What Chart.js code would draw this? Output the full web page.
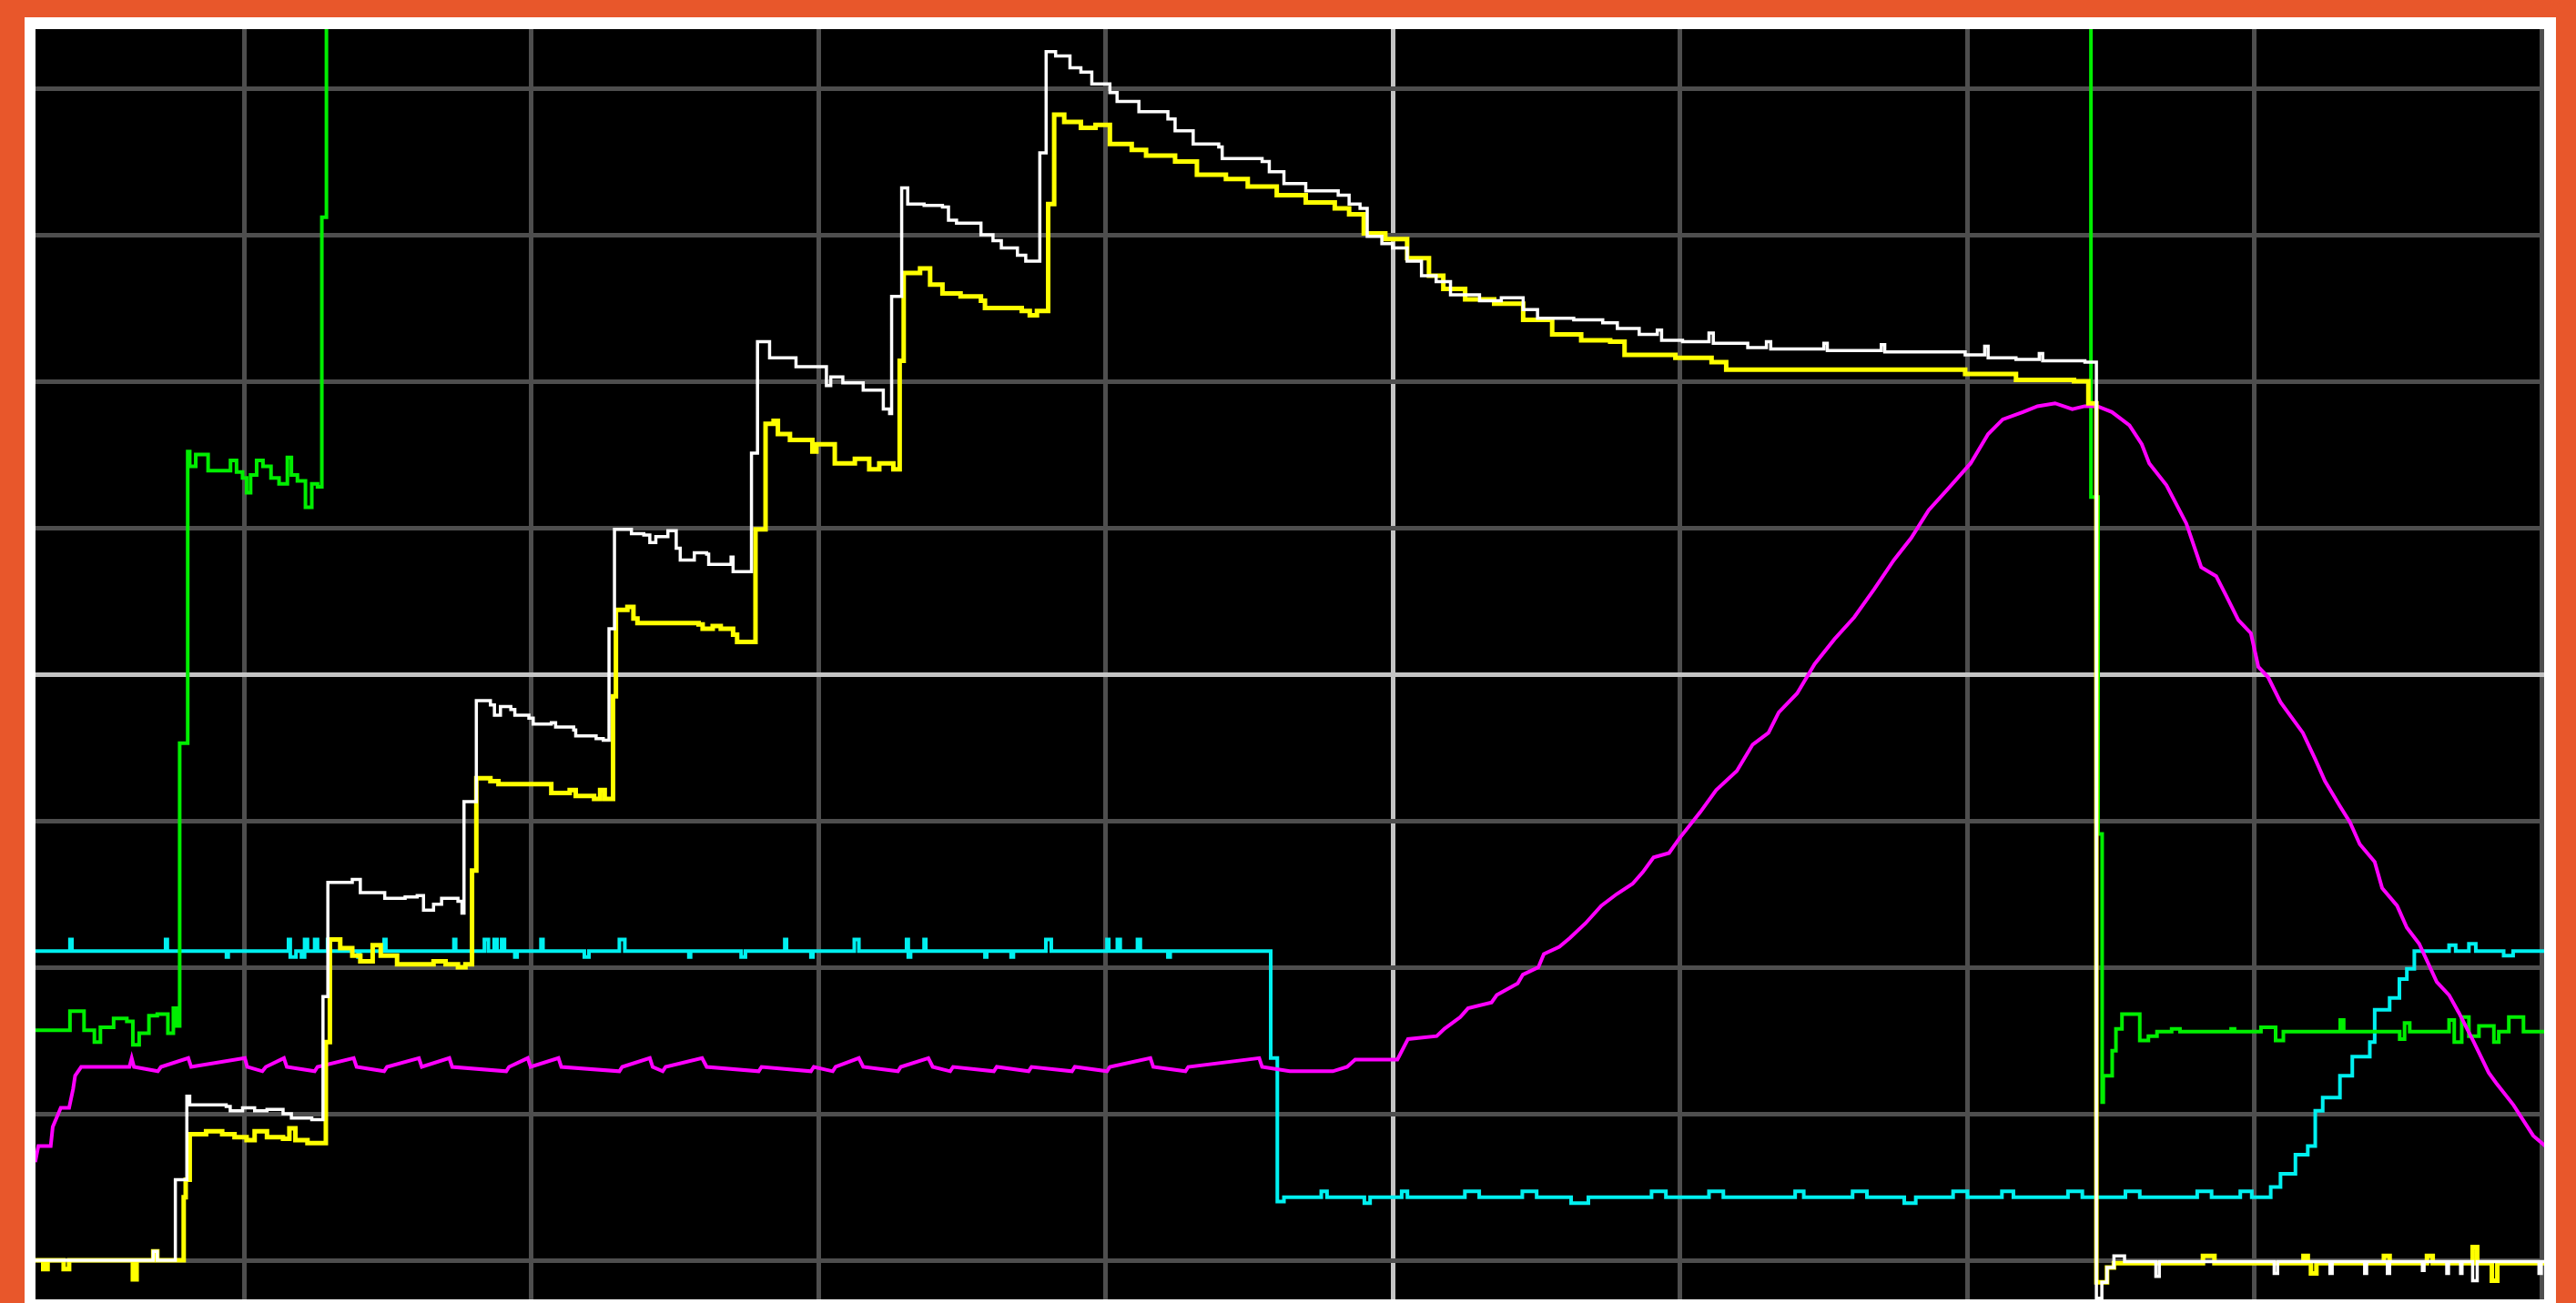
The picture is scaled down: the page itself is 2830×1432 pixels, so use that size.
<!DOCTYPE html>
<html>
<head>
<meta charset="utf-8">
<script src="https://cdn.jsdelivr.net/npm/chart.js@4.4.1/dist/chart.umd.min.js"></script>
<style>
  html, body { margin: 0; padding: 0; }
  body { width: 2830px; height: 1432px; overflow: hidden; background: #e8572b; position: relative; }
  .frame { position: absolute; left: 27px; top: 19px; width: 2781px; height: 1460px; background: #fff; }
  .screen { position: absolute; left: 39px; top: 32px; width: 2756px; height: 1396px; background: #000; }
</style>
</head>
<body>
<div class="frame"></div>
<div class="screen"><canvas id="scope"></canvas></div>
<script>
// scope screen in divisions, centre of the graticule = 0
const xRange = [-4.727, 4.008];
const yRange = [-4.267, 4.404];
const xDivisions = [-4, -3, -2, -1, 0, 1, 2, 3, 4];
const yDivisions = [-4, -3, -2, -1, 0, 1, 2, 3, 4];

// [x div, y div] -- each point is the level reached at that x (6 = off the top of the screen)
const whiteTrace = [
  [-4.727,-4.00],[-4.317,-3.94],[-4.303,-4.00],[-4.240,-3.45],[-4.200,-2.88],[-4.190,-2.94],[-4.063,-2.95],[-4.049,-2.98],[-4.006,-2.96],[-3.964,-2.98],[-3.921,-2.97],[-3.865,-3.00],[-3.836,-3.03],[-3.765,-3.04],
  [-3.726,-2.20],[-3.709,-1.42],[-3.624,-1.40],[-3.596,-1.49],[-3.511,-1.53],[-3.440,-1.52],[-3.398,-1.51],[-3.376,-1.61],[-3.341,-1.57],[-3.313,-1.53],[-3.256,-1.55],[-3.242,-1.63],
  [-3.235,-0.87],[-3.192,-0.18],[-3.143,-0.21],[-3.129,-0.28],[-3.108,-0.22],[-3.072,-0.24],[-3.058,-0.28],[-3.009,-0.30],[-2.994,-0.34],[-2.931,-0.33],[-2.916,-0.36],[-2.853,-0.38],[-2.846,-0.42],[-2.775,-0.44],[-2.750,-0.45],
  [-2.730,0.31],[-2.711,0.99],[-2.652,0.96],[-2.609,0.95],[-2.588,0.90],[-2.567,0.94],[-2.525,0.98],[-2.496,0.86],[-2.482,0.78],[-2.433,0.83],[-2.390,0.82],[-2.383,0.75],[-2.305,0.80],[-2.298,0.70],
  [-2.234,1.51],[-2.213,2.27],[-2.171,2.16],[-2.079,2.10],[-1.973,1.97],[-1.958,2.03],[-1.916,1.99],[-1.845,1.94],[-1.775,1.81],[-1.753,1.78],
  [-1.746,2.58],[-1.711,3.32],[-1.690,3.21],[-1.633,3.20],[-1.569,3.19],[-1.548,3.10],[-1.520,3.08],[-1.435,3.00],[-1.393,2.96],[-1.364,2.91],[-1.308,2.86],[-1.279,2.82],
  [-1.230,3.56],[-1.208,4.25],[-1.175,4.22],[-1.125,4.14],[-1.087,4.11],[-1.049,4.03],[-0.986,3.97],[-0.961,3.91],[-0.885,3.84],[-0.784,3.79],[-0.759,3.71],[-0.696,3.62],[-0.607,3.60],[-0.595,3.52],[-0.456,3.50],[-0.431,3.43],[-0.380,3.35],[-0.304,3.30],[-0.191,3.27],[-0.153,3.21],[-0.115,3.18],[-0.090,2.99],[-0.039,2.94],[-0.002,2.91],[0.049,2.82],[0.099,2.72],[0.150,2.68],[0.200,2.59],[0.301,2.55],[0.377,2.57],[0.453,2.49],[0.503,2.43],[0.629,2.42],[0.730,2.40],[0.781,2.36],[0.857,2.32],[0.920,2.35],[0.935,2.28],[1.008,2.27],[1.100,2.33],[1.115,2.26],[1.185,2.26],[1.235,2.23],[1.300,2.27],[1.315,2.22],[1.412,2.22],[1.500,2.26],[1.512,2.21],[1.563,2.21],[1.700,2.25],[1.712,2.20],[1.866,2.20],[1.992,2.18],[2.060,2.24],[2.072,2.16],[2.169,2.15],[2.250,2.19],[2.262,2.14],[2.371,2.14],[2.409,2.13],
  [2.449,-4.26],[2.468,-4.15],[2.486,-4.05],[2.510,-3.97],[2.547,-4.01],[2.656,-4.11],[2.668,-4.01],[3.068,-4.09],[3.080,-4.01],[3.262,-4.09],[3.270,-4.01],[3.383,-4.09],[3.390,-4.01],[3.462,-4.09],[3.470,-4.01],[3.584,-4.07],[3.590,-4.01],[3.669,-4.09],[3.675,-4.01],[3.717,-4.09],[3.722,-4.01],[3.759,-4.14],[3.775,-4.01],[3.990,-4.09],[3.998,-4.01],[4.020,-4.01]
];

const yellowTrace = [
  [-4.727,-4.00],[-4.700,-4.06],[-4.685,-4.00],[-4.629,-4.06],[-4.610,-4.00],[-4.388,-4.13],[-4.375,-4.00],[-4.317,-3.94],[-4.303,-4.00],
  [-4.211,-3.57],[-4.204,-3.45],[-4.190,-3.14],[-4.133,-3.12],[-4.077,-3.14],[-4.034,-3.16],[-3.992,-3.18],[-3.964,-3.12],[-3.921,-3.16],[-3.865,-3.17],[-3.843,-3.10],[-3.822,-3.18],[-3.780,-3.20],
  [-3.716,-2.51],[-3.702,-1.81],[-3.666,-1.87],[-3.624,-1.92],[-3.596,-1.96],[-3.553,-1.85],[-3.525,-1.92],[-3.468,-1.98],[-3.341,-1.96],[-3.299,-1.98],[-3.256,-2.00],[-3.230,-1.98],
  [-3.207,-1.34],[-3.192,-0.71],[-3.143,-0.73],[-3.115,-0.75],[-2.931,-0.81],[-2.867,-0.79],[-2.846,-0.83],[-2.782,-0.85],[-2.761,-0.79],[-2.745,-0.85],
  [-2.716,-0.15],[-2.706,0.44],[-2.666,0.46],[-2.645,0.38],[-2.631,0.35],[-2.418,0.34],[-2.404,0.31],[-2.369,0.33],[-2.341,0.31],[-2.298,0.27],[-2.284,0.22],
  [-2.220,0.99],[-2.185,1.71],[-2.157,1.73],[-2.142,1.64],[-2.100,1.60],[-2.022,1.52],[-2.008,1.57],[-1.944,1.44],[-1.874,1.47],[-1.824,1.40],[-1.789,1.44],[-1.740,1.40],
  [-1.718,2.14],[-1.704,2.74],[-1.647,2.77],[-1.612,2.66],[-1.569,2.60],[-1.506,2.58],[-1.435,2.55],[-1.421,2.50],[-1.293,2.48],[-1.265,2.45],[-1.240,2.48],
  [-1.201,3.21],[-1.180,3.82],[-1.145,3.77],[-1.087,3.73],[-1.036,3.75],[-0.986,3.62],[-0.910,3.58],[-0.860,3.54],[-0.759,3.50],[-0.683,3.41],[-0.582,3.38],[-0.506,3.33],[-0.405,3.27],[-0.304,3.22],[-0.203,3.18],[-0.153,3.14],[-0.102,3.01],[-0.027,2.97],[0.049,2.84],[0.125,2.72],[0.175,2.63],[0.251,2.56],[0.352,2.53],[0.453,2.42],[0.554,2.32],[0.655,2.28],[0.756,2.27],[0.806,2.18],[0.983,2.16],[1.109,2.13],[1.160,2.08],[1.664,2.08],[1.992,2.05],[2.169,2.01],[2.371,2.00],[2.421,1.85],
  [2.449,-4.15],[2.486,-4.05],[2.510,-4.02],[2.820,-3.97],[2.860,-4.02],[3.170,-3.97],[3.185,-4.02],[3.196,-4.09],[3.215,-4.02],[3.450,-3.97],[3.470,-4.02],[3.600,-3.97],[3.620,-4.02],[3.759,-3.91],[3.775,-4.02],[3.826,-4.14],[3.845,-4.02],[4.020,-4.02]
];

const greenTrace = [
  [-4.727,-2.43],[-4.607,-2.30],[-4.558,-2.43],[-4.522,-2.51],[-4.501,-2.41],[-4.455,-2.35],[-4.409,-2.37],[-4.388,-2.53],[-4.366,-2.45],[-4.332,-2.33],[-4.303,-2.32],[-4.266,-2.45],[-4.247,-2.28],[-4.235,-2.40],
  [-4.225,-0.47],[-4.197,1.52],[-4.190,1.42],[-4.169,1.50],[-4.126,1.39],[-4.048,1.46],[-4.027,1.38],[-4.006,1.34],[-3.992,1.24],[-3.978,1.36],[-3.957,1.46],[-3.935,1.42],[-3.907,1.34],[-3.879,1.30],[-3.850,1.48],[-3.836,1.36],[-3.815,1.32],[-3.787,1.14],[-3.765,1.30],[-3.745,1.28],
  [-3.730,3.12],[-3.714,6],[2.430,6],
  [2.430,1.21],[2.455,-1.09],[2.469,-2.92],[2.473,-2.74],[2.504,-2.57],[2.517,-2.42],[2.538,-2.32],[2.600,-2.50],[2.630,-2.47],[2.660,-2.44],[2.711,-2.42],[2.740,-2.44],[2.918,-2.42],[2.930,-2.44],[3.022,-2.41],[3.073,-2.50],[3.100,-2.44],[3.298,-2.36],[3.310,-2.44],[3.505,-2.49],[3.522,-2.38],[3.540,-2.44],[3.677,-2.36],[3.695,-2.51],[3.721,-2.34],[3.746,-2.47],[3.781,-2.40],[3.833,-2.51],[3.850,-2.44],[3.885,-2.34],[3.936,-2.44],[4.020,-2.44]
];

const cyanTrace = [
  [-4.727,-1.89],[-4.607,-1.81],[-4.600,-1.89],[-4.274,-1.81],[-4.268,-1.89],[-4.062,-1.93],[-4.056,-1.89],[-3.846,-1.81],[-3.840,-1.93],[-3.820,-1.89],[-3.801,-1.93],[-3.790,-1.81],[-3.780,-1.89],[-3.755,-1.81],[-3.745,-1.89],[-3.710,-1.81],[-3.700,-1.89],[-3.604,-1.93],[-3.598,-1.89],[-3.513,-1.81],[-3.507,-1.89],[-3.270,-1.81],[-3.264,-1.89],[-3.164,-1.81],[-3.150,-1.89],[-3.130,-1.81],[-3.120,-1.89],[-3.104,-1.81],[-3.094,-1.89],[-3.058,-1.93],[-3.050,-1.89],[-2.967,-1.81],[-2.960,-1.89],[-2.816,-1.93],[-2.800,-1.89],[-2.694,-1.81],[-2.675,-1.89],[-2.452,-1.93],[-2.446,-1.89],[-2.270,-1.93],[-2.255,-1.89],[-2.118,-1.81],[-2.112,-1.89],[-2.027,-1.93],[-2.020,-1.89],[-1.876,-1.81],[-1.860,-1.89],[-1.694,-1.81],[-1.688,-1.93],[-1.680,-1.89],[-1.633,-1.81],[-1.627,-1.89],[-1.421,-1.93],[-1.415,-1.89],[-1.330,-1.93],[-1.322,-1.89],[-1.209,-1.81],[-1.190,-1.89],[-0.996,-1.81],[-0.990,-1.89],[-0.960,-1.81],[-0.950,-1.89],[-0.890,-1.81],[-0.880,-1.89],[-0.784,-1.93],[-0.776,-1.89],
  [-0.426,-2.62],[-0.403,-3.60],[-0.380,-3.57],[-0.250,-3.53],[-0.230,-3.57],[-0.100,-3.61],[-0.080,-3.57],[0.030,-3.53],[0.050,-3.57],[0.250,-3.53],[0.300,-3.57],[0.450,-3.53],[0.500,-3.57],[0.620,-3.61],[0.680,-3.57],[0.900,-3.53],[0.950,-3.57],[1.100,-3.53],[1.150,-3.57],[1.400,-3.53],[1.430,-3.57],[1.600,-3.53],[1.650,-3.57],[1.780,-3.61],[1.820,-3.57],[1.950,-3.53],[2.000,-3.57],[2.120,-3.53],[2.160,-3.57],[2.350,-3.53],[2.400,-3.57],[2.550,-3.53],[2.600,-3.57],[2.800,-3.53],[2.850,-3.57],[2.950,-3.53],[2.990,-3.57],
  [3.056,-3.50],[3.090,-3.41],[3.142,-3.28],[3.185,-3.22],[3.211,-2.98],[3.237,-2.89],[3.297,-2.74],[3.340,-2.61],[3.401,-2.51],[3.418,-2.29],[3.470,-2.21],[3.504,-2.08],[3.530,-2.01],[3.556,-1.89],[3.677,-1.85],[3.700,-1.89],[3.746,-1.84],[3.770,-1.89],[3.867,-1.92],[3.900,-1.89],[4.020,-1.89]
];

const magentaTrace = [
  [-4.728,-3.33],[-4.717,-3.22],[-4.674,-3.22],[-4.667,-3.09],[-4.639,-2.96],[-4.610,-2.96],[-4.596,-2.83],[-4.589,-2.74],[-4.568,-2.68],
  [-4.400,-2.68],[-4.392,-2.62],[-4.384,-2.68],[-4.301,-2.71],[-4.290,-2.68],[-4.195,-2.62],[-4.185,-2.68],[-3.998,-2.62],[-3.990,-2.68],[-3.937,-2.71],[-3.925,-2.68],[-3.862,-2.62],[-3.852,-2.68],[-3.755,-2.71],[-3.745,-2.68],[-3.619,-2.62],[-3.609,-2.68],[-3.513,-2.71],[-3.503,-2.68],[-3.392,-2.62],[-3.382,-2.68],[-3.286,-2.62],[-3.276,-2.68],[-3.088,-2.71],[-3.078,-2.68],[-3.013,-2.62],[-3.003,-2.68],[-2.906,-2.62],[-2.896,-2.68],[-2.694,-2.71],[-2.684,-2.68],[-2.588,-2.62],[-2.578,-2.68],[-2.543,-2.71],[-2.533,-2.68],[-2.406,-2.62],[-2.390,-2.68],[-2.209,-2.71],[-2.199,-2.68],[-2.027,-2.71],[-2.017,-2.68],[-1.951,-2.71],[-1.941,-2.68],[-1.860,-2.62],[-1.845,-2.68],[-1.724,-2.71],[-1.714,-2.68],[-1.618,-2.62],[-1.603,-2.68],[-1.542,-2.71],[-1.532,-2.68],[-1.390,-2.71],[-1.380,-2.68],[-1.269,-2.71],[-1.259,-2.68],[-1.118,-2.71],[-1.108,-2.68],[-0.996,-2.71],[-0.986,-2.68],[-0.845,-2.62],[-0.835,-2.68],[-0.723,-2.71],[-0.713,-2.68],[-0.466,-2.62],[-0.456,-2.68],[-0.360,-2.71],[-0.210,-2.71],[-0.160,-2.68],[-0.132,-2.63],[-0.070,-2.63],[0.015,-2.63],
  [0.052,-2.49],[0.152,-2.47],[0.179,-2.42],[0.234,-2.34],[0.261,-2.28],[0.343,-2.24],[0.361,-2.19],[0.434,-2.11],[0.452,-2.05],[0.506,-2.00],[0.525,-1.91],[0.579,-1.86],[0.616,-1.80],[0.670,-1.70],[0.725,-1.58],[0.779,-1.50],[0.834,-1.43],[0.870,-1.35],[0.907,-1.25],[0.961,-1.22],[0.997,-1.12],[1.070,-0.94],[1.125,-0.79],[1.197,-0.66],[1.252,-0.48],[1.307,-0.40],[1.343,-0.26],[1.407,-0.13],[1.468,0.07],[1.537,0.24],[1.606,0.39],[1.675,0.58],[1.744,0.78],[1.804,0.93],[1.865,1.12],[1.934,1.27],[2.011,1.44],[2.072,1.64],[2.123,1.74],[2.193,1.79],[2.244,1.83],[2.305,1.85],[2.365,1.81],[2.408,1.83],[2.452,1.83],[2.503,1.79],[2.564,1.70],[2.607,1.57],[2.633,1.44],[2.693,1.29],[2.762,1.03],[2.814,0.73],[2.866,0.67],[2.900,0.54],[2.943,0.37],[2.987,0.28],[3.013,0.05],[3.047,-0.02],[3.090,-0.19],[3.168,-0.40],[3.211,-0.58],[3.245,-0.73],[3.297,-0.90],[3.332,-1.01],[3.366,-1.16],[3.418,-1.28],[3.444,-1.46],[3.496,-1.58],[3.530,-1.73],[3.573,-1.84],[3.634,-2.10],[3.677,-2.19],[3.711,-2.31],[3.763,-2.51],[3.815,-2.72],[3.841,-2.79],[3.901,-2.94],[3.970,-3.15],[4.024,-3.24]
];

const toPoints = arr => arr.map(([x, y]) => ({ x: x, y: y }));

// stepped 'before': hold the previous level, jump at the next point's x
const data = {
    datasets: [
        { label: 'CH1', data: toPoints(whiteTrace), borderColor: '#ffffff', borderWidth: 3.5, stepped: 'before' },
        { label: 'CH2', data: toPoints(yellowTrace), borderColor: '#ffff00', borderWidth: 5, stepped: 'before' },
        { label: 'CH3', data: toPoints(magentaTrace), borderColor: '#ff00ff', borderWidth: 4 },
        { label: 'CH4', data: toPoints(greenTrace), borderColor: '#00ee00', borderWidth: 4, stepped: 'before' },
        { label: 'CH5', data: toPoints(cyanTrace), borderColor: '#00f0f0', borderWidth: 4, stepped: 'before' }
    ]
};

const graticule = (divs) => ({
    grid: {
        color: ctx => ctx.tick && ctx.tick.value === 0 ? '#c4c4c4' : '#4e4e4e',
        lineWidth: 5,
        drawTicks: false
    },
    border: { display: false },
    ticks: { display: false },
    afterBuildTicks: axis => { axis.ticks = divs.map(v => ({ value: v })); }
});

const config = {
    type: 'line',
    data: data,
    options: {
        responsive: true,
        maintainAspectRatio: false,
        animation: false,
        layout: { padding: 0 },
        elements: { point: { radius: 0 }, line: { fill: false, tension: 0, borderJoinStyle: 'miter' } },
        plugins: { legend: { display: false }, tooltip: { enabled: false } },
        scales: {
            x: Object.assign({ type: 'linear', min: xRange[0], max: xRange[1] }, graticule(xDivisions)),
            y: Object.assign({ type: 'linear', min: yRange[0], max: yRange[1] }, graticule(yDivisions))
        }
    }
};

new Chart(document.getElementById('scope'), config);
</script>
</body>
</html>
